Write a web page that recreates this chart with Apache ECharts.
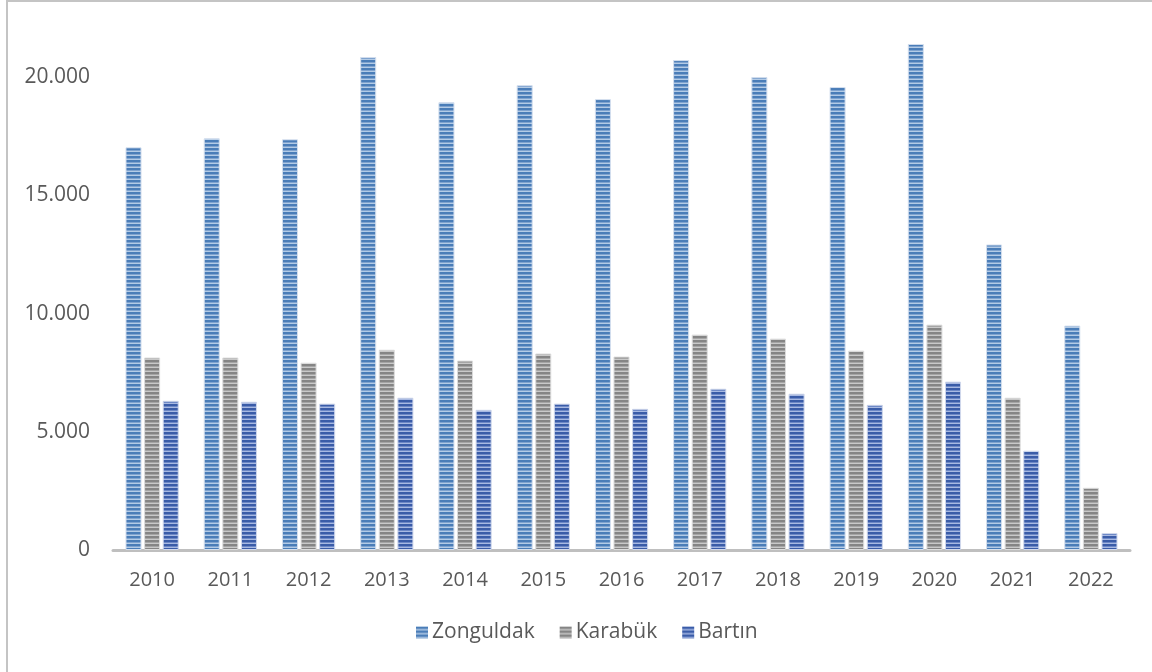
<!DOCTYPE html>
<html>
<head>
<meta charset="utf-8">
<script src="https://cdn.jsdelivr.net/npm/echarts@6/dist/echarts.min.js"></script>
<style>
html,body{margin:0;padding:0;background:#fff;}
#c{width:1152px;height:672px;}
</style>
</head>
<body>
<div id="c"></div>
<script>
var years = ['2010','2011','2012','2013','2014','2015','2016','2017','2018','2019','2020','2021','2022'];
var zonguldak = [17030, 17410, 17370, 20850, 18940, 19660, 19070, 20720, 20000, 19580, 21400, 12920, 9490];
var karabuk = [8140, 8140, 7920, 8470, 8010, 8310, 8180, 9110, 8940, 8430, 9530, 6440, 2630];
var bartin = [6310, 6270, 6190, 6440, 5930, 6190, 5970, 6820, 6610, 6140, 7120, 4200, 720];
var yTicks = [0, 5000, 10000, 15000, 20000];

function stripes(dark, mid, light) {
  var cv = document.createElement('canvas');
  cv.width = 4; cv.height = 4;
  var ctx = cv.getContext('2d');
  ctx.fillStyle = dark; ctx.fillRect(0, 0, 4, 2);
  ctx.fillStyle = mid; ctx.fillRect(0, 2, 4, 1);
  ctx.fillStyle = light; ctx.fillRect(0, 3, 4, 1);
  return {image: cv, repeat: 'repeat'};
}

var pZ = stripes('#4a7db8', '#7fa3cf', '#b3cbe6');
var pK = stripes('#858585', '#a5a5a5', '#c9c9c9');
var pB = stripes('#3a5ca8', '#6d88c6', '#a8b9e2');

var chart = echarts.init(document.getElementById('c'), null, {renderer: 'canvas'});
var font = '"Open Sans", sans-serif';
function fmt(v) { return v === 0 ? '0' : (v / 1000).toFixed(0) + '.000'; }

function mk(name, data, pat, border) {
  return {
    name: name, type: 'bar', data: data,
    barWidth: '20.5%', barGap: '16%',
    itemStyle: {color: pat, borderColor: border, borderWidth: 1},
    emphasis: {disabled: true}
  };
}

chart.setOption({
  animation: false,
  textStyle: {fontFamily: font},
  graphic: [{
    type: 'rect', shape: {x: 7, y: 1, width: 1200, height: 720},
    style: {fill: 'none', stroke: '#c4c4c4', lineWidth: 2}, silent: true
  }],
  grid: {left: 113, right: 22, top: 29.8, bottom: 122, containLabel: false},
  legend: {
    bottom: 24, left: 411, itemWidth: 12, itemHeight: 12, itemGap: 25,
    itemStyle: {borderWidth: 0},
    textStyle: {color: '#595959', fontSize: 21, fontFamily: font, padding: [0, 0, 0, -1]},
    data: ['Zonguldak', 'Karabük', 'Bartın'],
    icon: 'rect'
  },
  xAxis: {
    type: 'category', data: years,
    axisLine: {lineStyle: {color: '#bfbfbf', width: 3}},
    axisTick: {show: false},
    axisLabel: {color: '#595959', fontSize: 20, margin: 20, fontFamily: font}
  },
  yAxis: {
    type: 'value', min: 0, max: 22000, interval: 5000,
    splitLine: {show: false},
    axisLine: {show: false}, axisTick: {show: false},
    axisLabel: {
      color: '#595959', fontSize: 21, margin: 23, fontFamily: font,
      showMaxLabel: false,
      formatter: function (v) { return yTicks.indexOf(v) >= 0 ? fmt(v) : ''; }
    }
  },
  series: [
    mk('Zonguldak', zonguldak, pZ, '#d4dfee'),
    mk('Karabük', karabuk, pK, '#dddddd'),
    mk('Bartın', bartin, pB, '#d0d8ec')
  ]
});
</script>
</body>
</html>
